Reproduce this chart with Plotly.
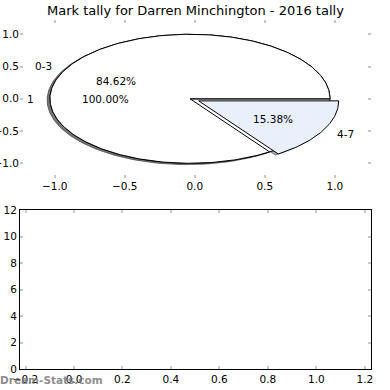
import numpy as np
import plotly.graph_objects as go

TITLE = "Mark tally for Darren Minchington - 2016 tally"
WATERMARK = "Dream-Stats.com"

# pie 1 (single category)
pie1_labels = ["1"]
pie1_values = [13]
pie1_colors = ["#ffffff"]
pie1_explode = [0.0]

# pie 2 (mark bands)
pie2_labels = ["0-3", "4-7"]
pie2_values = [11, 2]
pie2_colors = ["#ffffff", "#eaf0fb"]
pie2_explode = [0.0, 0.07]

top_xticks = [-1.0, -0.5, 0.0, 0.5, 1.0]
top_yticks = [-1.0, -0.5, 0.0, 0.5, 1.0]
bottom_xticks = [-0.2, 0.0, 0.2, 0.4, 0.6, 0.8, 1.0, 1.2]
bottom_yticks = [0, 2, 4, 6, 8, 10, 12]

CX, CY = -0.034, 0.0
SH_X, SH_Y = -0.02, -0.02
FONT = "DejaVu Sans"


def wedges(values, explode):
    total = float(sum(values))
    start = 0.0
    out = []
    for v, e in zip(values, explode):
        frac = v / total
        end = start + 360.0 * frac
        mid = np.deg2rad((start + end) / 2.0)
        cx = CX + e * np.cos(mid)
        cy = CY + e * np.sin(mid)
        out.append(dict(t0=start, t1=end, cx=cx, cy=cy, mid=mid, frac=frac))
        start = end
    return out


def poly(w, dx=0.0, dy=0.0):
    n = max(int(abs(w["t1"] - w["t0"]) / 1.0), 6)
    th = np.deg2rad(np.linspace(w["t0"], w["t1"], n))
    cx, cy = w["cx"] + dx, w["cy"] + dy
    xs = np.concatenate([[cx], cx + np.cos(th), [cx]])
    ys = np.concatenate([[cy], cy + np.sin(th), [cy]])
    return xs, ys


def shade(hexcol):
    h = hexcol.lstrip("#")
    r, g, b = (int(h[i:i + 2], 16) for i in (0, 2, 4))
    return "rgba(%d,%d,%d,0.5)" % (int(r * 0.3), int(g * 0.3), int(b * 0.3))


pies = [
    (pie1_labels, pie1_values, pie1_colors, pie1_explode),
    (pie2_labels, pie2_values, pie2_colors, pie2_explode),
]

fig = go.Figure()
annotations = []

all_w = []
for labels, values, colors, explode in pies:
    ws = wedges(values, explode)
    all_w.append((labels, colors, ws))

# shadows below all wedges
for labels, colors, ws in all_w:
    for w, c in zip(ws, colors):
        xs, ys = poly(w, SH_X, SH_Y)
        sc = shade(c)
        fig.add_trace(go.Scatter(x=xs, y=ys, mode="lines", fill="toself",
                                 fillcolor=sc, line=dict(color=sc, width=1),
                                 hoverinfo="skip", showlegend=False,
                                 xaxis="x", yaxis="y"))

for labels, colors, ws in all_w:
    for w, c, lab in zip(ws, colors, labels):
        xs, ys = poly(w)
        fig.add_trace(go.Scatter(x=xs, y=ys, mode="lines", fill="toself",
                                 fillcolor=c, line=dict(color="black", width=1),
                                 hoverinfo="skip", showlegend=False,
                                 xaxis="x", yaxis="y"))
        lx = w["cx"] + 1.1 * np.cos(w["mid"])
        ly = w["cy"] + 1.1 * np.sin(w["mid"])
        annotations.append(dict(x=lx, y=ly, xref="x", yref="y", text=lab,
                                showarrow=False,
                                xanchor="left" if lx > w["cx"] else "right",
                                yanchor="middle",
                                font=dict(family=FONT, size=10.5, color="black")))
        px = w["cx"] + 0.6 * np.cos(w["mid"])
        py = w["cy"] + 0.6 * np.sin(w["mid"])
        annotations.append(dict(x=px, y=py, xref="x", yref="y",
                                text="%.2f%%" % (w["frac"] * 100),
                                showarrow=False, xanchor="center", yanchor="middle",
                                font=dict(family=FONT, size=10.5, color="black")))

# empty trace for bottom axes
fig.add_trace(go.Scatter(x=[], y=[], xaxis="x2", yaxis="y2", showlegend=False))

annotations.append(dict(x=0.5, y=1 - 10 / 390, xref="paper", yref="paper",
                        text=TITLE, showarrow=False, xanchor="center", yanchor="middle",
                        font=dict(family=FONT, size=13, color="black")))
annotations.append(dict(x=0, y=1 - 380 / 390, xref="paper", yref="paper",
                        text="<b>%s</b>" % WATERMARK, showarrow=False,
                        xanchor="left", yanchor="middle", xshift=-2,
                        font=dict(family=FONT, size=10.5, color="rgba(120,120,120,0.85)")))

tick_common = dict(ticks="inside", ticklen=3, tickwidth=2, tickcolor="#c8c8c8",
                   showgrid=False, zeroline=False, automargin=False,
                   tickfont=dict(family=FONT, size=10.5, color="black"))

xd = [20 / 390, 370.5 / 390]
fig.update_layout(
    width=390, height=390,
    margin=dict(l=0, r=0, t=0, b=0, autoexpand=False),
    paper_bgcolor="white", plot_bgcolor="white",
    showlegend=False,
    annotations=annotations,
    xaxis=dict(domain=xd, range=[-1.248, 1.255], tickvals=top_xticks,
               tickformat=".1f", showline=False, mirror="ticks", anchor="y",
               **tick_common),
    yaxis=dict(domain=[(390 - 178.3) / 390, (390 - 19.7) / 390],
               range=[-1.233, 1.226], tickvals=top_yticks, tickformat=".1f",
               showline=False, mirror="ticks", anchor="x", **tick_common),
    xaxis2=dict(domain=xd, range=[-0.2227, 1.2235], tickvals=bottom_xticks,
                tickformat=".1f", showline=True, linecolor="black", linewidth=1,
                mirror="all", anchor="y2", **tick_common),
    yaxis2=dict(domain=[(390 - 369.3) / 390, (390 - 210) / 390],
                range=[0, 12], tickvals=bottom_yticks, tickformat="d",
                showline=True, linecolor="black", linewidth=1,
                mirror="all", anchor="x2", **tick_common),
)

fig.write_html(
    "out.html",
    config={"displayModeBar": False},
    post_script="document.body.style.margin='0';document.body.style.padding='0';",
)
